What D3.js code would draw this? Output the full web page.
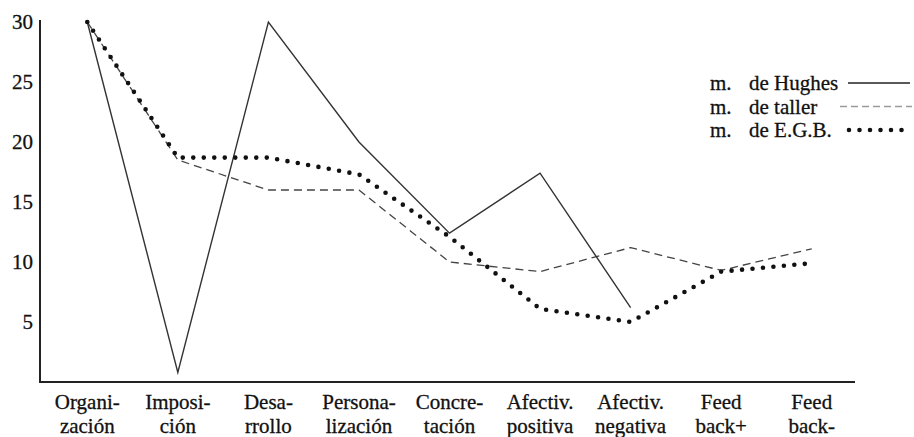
<!DOCTYPE html>
<html>
<head>
<meta charset="utf-8">
<script src="https://cdn.jsdelivr.net/npm/d3@7/dist/d3.min.js"></script>
<style>
  html, body { margin: 0; padding: 0; background: #fff; }
  svg { display: block; }
</style>
</head>
<body>
<svg id="chart" width="914" height="437" font-family="'Liberation Serif', 'DejaVu Serif', 'Times New Roman', serif"></svg>
<script>
// ---- data ----
const categories = ["Organización", "Imposición", "Desarrollo", "Personalización", "Concreción",
                    "Afectiv. positiva", "Afectiv. negativa", "Feed back+", "Feed back-"];
const categoryLines = [["Organi-", "zación"], ["Imposi-", "ción"], ["Desa-", "rrollo"],
                       ["Persona-", "lización"], ["Concre-", "tación"], ["Afectiv.", "positiva"],
                       ["Afectiv.", "negativa"], ["Feed", "back+"], ["Feed", "back-"]];
const hughes = [30, 0.8, 30, 20, 12.4, 17.4, 6.2, null, null];
const taller = [30, 18.5, 16, 16, 10, 9.2, 11.2, 9.3, 11.1];
const egb    = [30, 18.7, 18.7, 17.3, 12.1, 6.1, 5, 9.2, 9.9];
const yTicks = [5, 10, 15, 20, 25, 30];
const legendLabels = [["m.", "de Hughes"], ["m.", "de taller"], ["m.", "de E.G.B."]];

// ---- scales ----
const svg = d3.select("#chart");
const FONT = "'Liberation Serif', 'DejaVu Serif', 'Times New Roman', serif";
const x = d3.scalePoint().domain(categories).range([42, 857]).padding(0.5);
const y = d3.scaleLinear().domain([0, 30]).range([382, 22]);

// axes lines
svg.append("line").attr("x1", 40).attr("x2", 40).attr("y1", 20).attr("y2", 382)
  .attr("stroke", "#222").attr("stroke-width", 2);
svg.append("line").attr("x1", 39).attr("x2", 855).attr("y1", 382).attr("y2", 382)
  .attr("stroke", "#222").attr("stroke-width", 2);

const styleText = sel => sel.attr("font-family", FONT).attr("fill", "#111")
  .attr("stroke", "#111").attr("stroke-width", 0.3);

// y tick labels
svg.append("g").selectAll("text").data(yTicks).join("text")
  .call(styleText)
  .attr("x", 33).attr("y", d => y(d)).attr("dy", "0.35em")
  .attr("text-anchor", "end").attr("font-size", 21).text(d => d);

// x labels
const xl = svg.append("g").selectAll("text").data(categories).join("text")
  .call(styleText)
  .attr("text-anchor", "middle").attr("font-size", 21)
  .attr("transform", d => `translate(${x(d)},0)`);
xl.each(function(d, i) {
  const t = d3.select(this);
  categoryLines[i].forEach((s, j) => {
    t.append("tspan").attr("x", 0).attr("y", 409 + j * 24).text(s);
  });
});

// lines
const line = d3.line()
  .defined(d => d.v != null)
  .x(d => x(d.c)).y(d => y(d.v));
const toPts = arr => categories.map((c, i) => ({ c, v: arr[i] }));

svg.append("path").datum(toPts(taller)).attr("d", line)
  .attr("fill", "none").attr("stroke", "#444").attr("stroke-width", 1.3)
  .attr("stroke-dasharray", "8,5").attr("stroke-linejoin", "round");
svg.append("path").datum(toPts(hughes)).attr("d", line)
  .attr("fill", "none").attr("stroke", "#333").attr("stroke-width", 1.4)
  .attr("stroke-linejoin", "miter");
svg.append("path").datum(toPts(egb)).attr("d", line)
  .attr("fill", "none").attr("stroke", "#111").attr("stroke-width", 4.6)
  .attr("stroke-linecap", "round").attr("stroke-dasharray", "0,10.5");

// legend
const lg = svg.append("g");
const legendStyles = [
  { stroke: "#222", width: 1.4, dash: null, cap: "butt", x1: 848, x2: 910 },
  { stroke: "#9a9a9a", width: 1.4, dash: "7,4", cap: "butt", x1: 840, x2: 912 },
  { stroke: "#111", width: 4.6, dash: "0,10.5", cap: "round", x1: 849, x2: 912 }
];
legendLabels.forEach((lab, i) => {
  const by = 90 + i * 23.5;
  lg.append("text").call(styleText).attr("x", 710).attr("y", by).attr("font-size", 21).text(lab[0]);
  lg.append("text").call(styleText).attr("x", 749).attr("y", by).attr("font-size", 21).text(lab[1]);
  const s = legendStyles[i];
  const l = lg.append("line").attr("x1", s.x1).attr("x2", s.x2)
    .attr("y1", by - 7).attr("y2", by - 7)
    .attr("stroke", s.stroke).attr("stroke-width", s.width).attr("stroke-linecap", s.cap);
  if (s.dash) l.attr("stroke-dasharray", s.dash);
});
</script>
</body>
</html>
